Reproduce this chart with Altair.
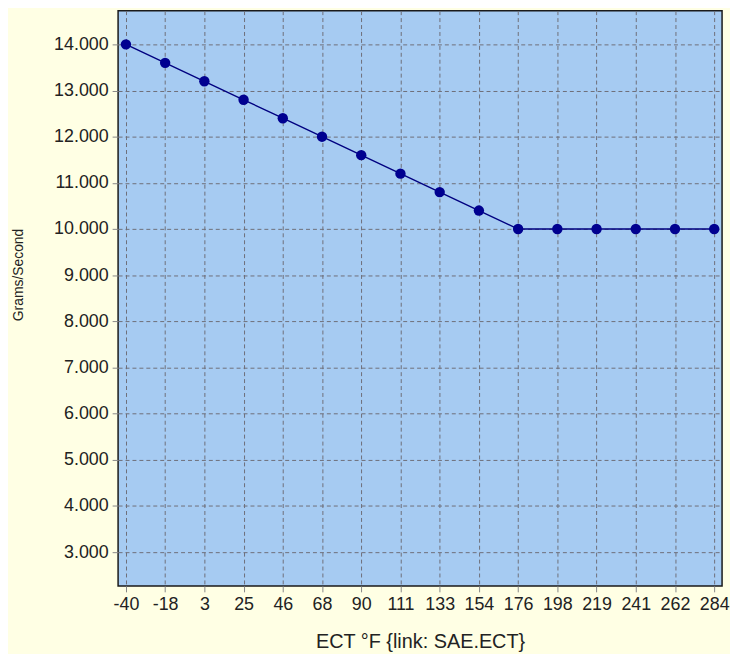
import altair as alt
import pandas as pd

temps = ["-40", "-18", "3", "25", "46", "68", "90", "111", "133", "154",
         "176", "198", "219", "241", "262", "284"]
grams = [14.0, 13.6, 13.2, 12.8, 12.4, 12.0, 11.6, 11.2, 10.8, 10.4,
         10.0, 10.0, 10.0, 10.0, 10.0, 10.0]
y_ticks = [3, 4, 5, 6, 7, 8, 9, 10, 11, 12, 13, 14]

df = pd.DataFrame({"ECT": temps, "GPS": grams})

FONT = "Liberation Sans"

x = alt.X("ECT:O", sort=temps,
          scale=alt.Scale(type="point", padding=0.2),
          axis=alt.Axis(title="ECT °F {link: SAE.ECT}", labelAngle=0,
                        labelFontSize=18, labelColor="#222222", labelFont=FONT,
                        titleFont=FONT, titleFontSize=20, titleFontWeight="normal",
                        titleColor="#222222", titlePadding=18,
                        tickColor="#888888", tickSize=6, domain=False,
                        grid=True, gridColor="#6e6e78", gridDash=[4, 3],
                        gridWidth=1, labelPadding=4))
y = alt.Y("GPS:Q",
          scale=alt.Scale(domain=[2.27, 14.73], nice=False, zero=False),
          axis=alt.Axis(title="Grams/Second", values=y_ticks, format=".3f",
                        labelFontSize=18, labelColor="#222222", labelFont=FONT,
                        titleFont=FONT, titleFontSize=14, titleFontWeight="normal",
                        titleColor="#222222", titlePadding=28, titleY=266,
                        tickColor="#888888", tickSize=6, domain=False,
                        grid=True, gridColor="#6e6e78", gridDash=[4, 3],
                        gridWidth=1, labelPadding=4))

line = alt.Chart(df).mark_line(color="#000080", strokeWidth=1.4).encode(x=x, y=y)
pts = alt.Chart(df).mark_point(filled=True, color="#000090", size=110, opacity=1).encode(x=x, y=y)

chart = (line + pts).properties(
    width=609, height=580,
    background="#FFFFE4",
    autosize=alt.AutoSizeParams(type="none"),
    padding={"left": 111, "top": 0, "right": 8, "bottom": 66},
).configure_view(
    fill="#A6CBF2", stroke="#1a1a1a", strokeWidth=1.5
)

chart.save("out.html", embed_options={"renderer": "svg", "actions": False})
